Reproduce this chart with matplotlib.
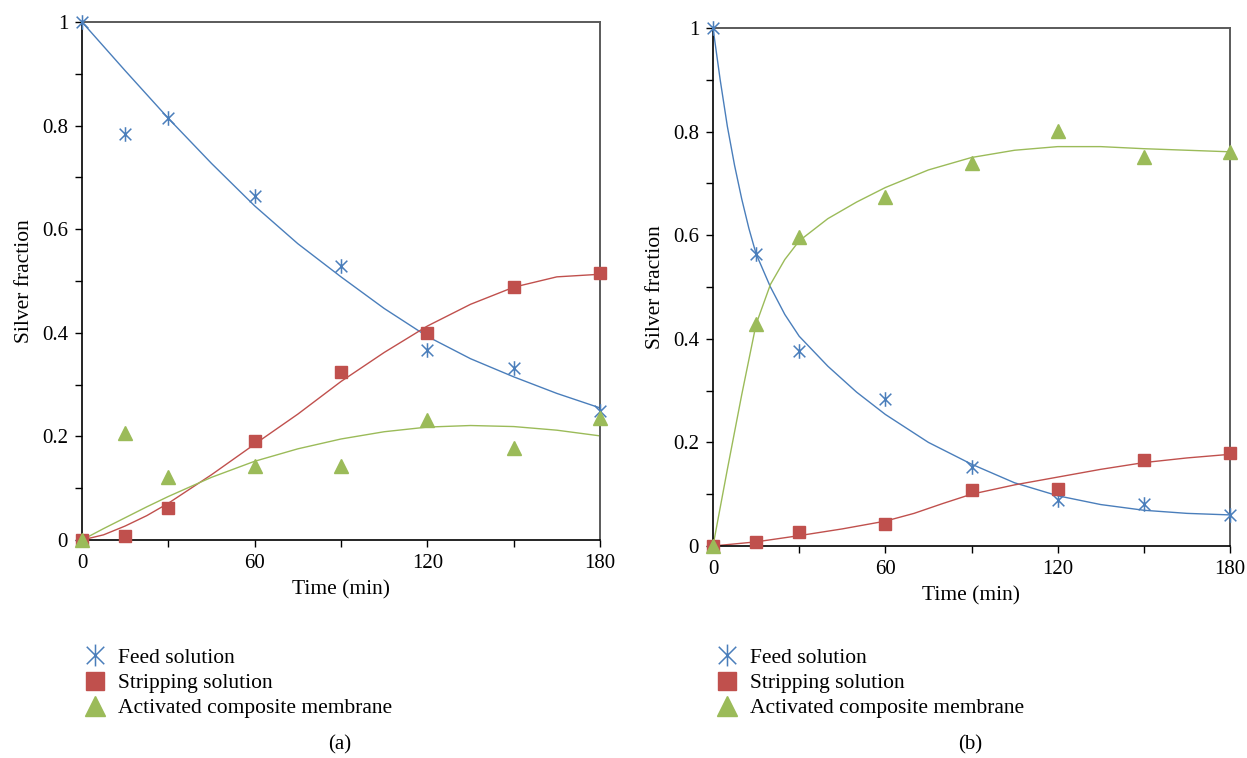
import matplotlib
matplotlib.use("Agg")
import matplotlib.pyplot as plt
from matplotlib.ticker import MultipleLocator, FuncFormatter
from matplotlib.path import Path

plt.rcParams['font.family'] = ['Liberation Serif', 'DejaVu Serif']

# couleurs (palette excel)
BLEU = '#4a7ebb'
ROUGE = '#c0504d'
VERT = '#9bbb59'

temps = [0, 15, 30, 60, 90, 120, 150, 180]

# (a) points mesures
feed_a = [1.0, 0.784, 0.814, 0.664, 0.529, 0.367, 0.332, 0.249]
strip_a = [0.0, 0.008, 0.062, 0.191, 0.324, 0.400, 0.488, 0.515]
memb_a = [0.0, 0.206, 0.121, 0.142, 0.142, 0.232, 0.177, 0.235]

# (a) courbes lissees
t_fit_a = [0, 7.5, 15, 22.5, 30, 45, 60, 75, 90, 105, 120, 135, 150, 165, 180]
feed_fit_a = [1.0, 0.953, 0.906, 0.860, 0.814, 0.727, 0.645, 0.572, 0.508,
              0.447, 0.393, 0.350, 0.315, 0.283, 0.255]
strip_fit_a = [0.0, 0.010, 0.027, 0.047, 0.071, 0.126, 0.185, 0.243, 0.306,
               0.362, 0.413, 0.455, 0.488, 0.508, 0.513]
memb_fit_a = [0.0, 0.022, 0.043, 0.064, 0.084, 0.121, 0.152, 0.176, 0.195,
              0.209, 0.218, 0.221, 0.219, 0.212, 0.201]

# (b) points mesures
feed_b = [1.0, 0.564, 0.376, 0.284, 0.153, 0.089, 0.081, 0.060]
strip_b = [0.0, 0.008, 0.027, 0.042, 0.108, 0.110, 0.166, 0.180]
memb_b = [0.0, 0.428, 0.597, 0.674, 0.739, 0.801, 0.751, 0.761]

# (b) courbes lissees
t_feed_fit_b = [0, 2.5, 5, 7.5, 10, 12.5, 15, 20, 25, 30, 40, 50, 60, 75, 90,
                105, 120, 135, 150, 165, 180]
feed_fit_b = [1.0, 0.90, 0.81, 0.735, 0.67, 0.613, 0.564, 0.50, 0.447, 0.405,
              0.347, 0.297, 0.254, 0.200, 0.158, 0.122, 0.097, 0.080, 0.069,
              0.063, 0.060]
t_memb_fit_b = [0, 5, 10, 15, 20, 25, 30, 40, 50, 60, 75, 90, 105, 120, 135,
                150, 165, 180]
memb_fit_b = [0.0, 0.148, 0.292, 0.428, 0.505, 0.553, 0.589, 0.632, 0.664,
              0.692, 0.726, 0.750, 0.764, 0.771, 0.771, 0.767, 0.764, 0.761]
t_strip_fit_b = [0, 15, 30, 45, 60, 70, 80, 90, 105, 120, 135, 150, 165, 180]
strip_fit_b = [0.0, 0.008, 0.020, 0.033, 0.048, 0.063, 0.082, 0.100, 0.118,
               0.133, 0.148, 0.161, 0.170, 0.177]

noms = ['Feed solution', 'Stripping solution', 'Activated composite membrane']
lettres = ['(a)', '(b)']

W, H = 1247, 758
fig = plt.figure(figsize=(W / 100, H / 100), dpi=100)

# marqueur "x + trait vertical" comme excel
etoile = Path([(-0.8, -0.8), (0.8, 0.8), (-0.8, 0.8), (0.8, -0.8),
               (0, -1), (0, 1)],
              [Path.MOVETO, Path.LINETO, Path.MOVETO, Path.LINETO,
               Path.MOVETO, Path.LINETO])


def fmt_y(v, pos):
    return '%g' % round(v, 1)


def panneau(rect, courbes, points, lettre, leg_x, cap_x):
    ax = fig.add_axes(rect)
    for (tx, ty), c in zip(courbes, [BLEU, ROUGE, VERT]):
        ax.plot(tx, ty, color=c, lw=1.0, zorder=2)
    h1, = ax.plot(temps, points[0], ls='none', marker=etoile, ms=10.5,
                  mec=BLEU, mew=1.1, color=BLEU, clip_on=False, zorder=3)
    h2, = ax.plot(temps, points[1], ls='none', marker='s', ms=8.5,
                  color=ROUGE, mec=ROUGE, clip_on=False, zorder=3)
    h3, = ax.plot(temps, points[2], ls='none', marker='^', ms=9.5,
                  color=VERT, mec=VERT, clip_on=False, zorder=3)
    ax.set_xlim(0, 180)
    ax.set_ylim(0, 1)
    ax.xaxis.set_major_locator(MultipleLocator(60))
    ax.xaxis.set_minor_locator(MultipleLocator(30))
    ax.yaxis.set_major_locator(MultipleLocator(0.2))
    ax.yaxis.set_minor_locator(MultipleLocator(0.1))
    ax.yaxis.set_major_formatter(FuncFormatter(fmt_y))
    ax.tick_params(which='both', direction='out', length=5, width=1,
                   labelsize=15, top=False, right=False)
    ax.tick_params(axis='x', pad=5)
    ax.tick_params(axis='y', pad=5)
    for s in ['left', 'bottom']:
        ax.spines[s].set_color('black')
        ax.spines[s].set_linewidth(1.2)
    for s in ['top', 'right']:
        ax.spines[s].set_color('#5a5a5a')
        ax.spines[s].set_linewidth(1.4)
    ax.set_xlabel('Time (min)', fontsize=15.5, labelpad=5)
    ax.set_ylabel('Silver fraction', fontsize=15.5, labelpad=6)

    fig.legend([h1, h2, h3], noms, loc='center left',
               bbox_to_anchor=(leg_x, (H - 683) / H), frameon=False,
               fontsize=15.5, markerscale=1.5, handlelength=1.0,
               handletextpad=0.6, labelspacing=0.24, borderpad=0,
               borderaxespad=0)
    fig.text(cap_x, (H - 745) / H, lettre, ha='center', va='center',
             fontsize=15)
    return ax


panneau([82 / W, (H - 540) / H, 518 / W, 518 / H],
        [(t_fit_a, feed_fit_a), (t_fit_a, strip_fit_a), (t_fit_a, memb_fit_a)],
        [feed_a, strip_a, memb_a], lettres[0], 84 / W, 340 / W)

panneau([713 / W, (H - 546) / H, 517 / W, 518 / H],
        [(t_feed_fit_b, feed_fit_b), (t_strip_fit_b, strip_fit_b),
         (t_memb_fit_b, memb_fit_b)],
        [feed_b, strip_b, memb_b], lettres[1], 716 / W, 970 / W)

fig.savefig('out.png', dpi=100)
